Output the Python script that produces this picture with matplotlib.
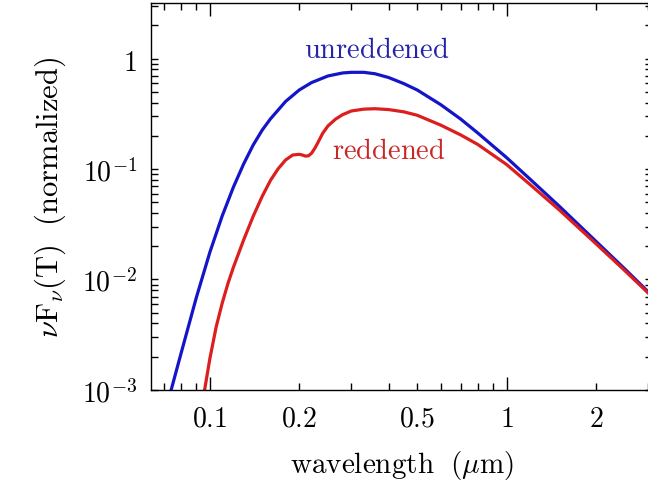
import matplotlib
matplotlib.use('Agg')
import matplotlib.pyplot as plt
from matplotlib.ticker import FixedLocator, FixedFormatter, NullFormatter

plt.rcParams['mathtext.fontset'] = 'cm'

# values (wavelength in micron, nu F_nu normalized)
wl_blue = [0.073, 0.08, 0.09, 0.10, 0.11, 0.12, 0.13, 0.14, 0.15, 0.16, 0.18,
           0.20, 0.22, 0.25, 0.28, 0.30, 0.33, 0.36, 0.40, 0.45, 0.50, 0.60,
           0.70, 0.80, 1.0, 1.2, 1.5, 2.0, 2.5, 3.0]
flux_blue = [0.00087, 0.00216, 0.00686, 0.0177, 0.0376, 0.0686, 0.1117, 0.1656,
             0.225, 0.285, 0.410, 0.520, 0.607, 0.697, 0.742, 0.752, 0.752,
             0.730, 0.675, 0.595, 0.520, 0.383, 0.284, 0.212, 0.127, 0.081,
             0.0465, 0.0222, 0.0125, 0.00774]

wl_red = [0.095, 0.10, 0.105, 0.11, 0.115, 0.12, 0.13, 0.14, 0.15, 0.16, 0.17,
          0.18, 0.19, 0.20, 0.205, 0.21, 0.215, 0.22, 0.225, 0.23, 0.24, 0.25,
          0.265, 0.28, 0.30, 0.33, 0.36, 0.40, 0.45, 0.50, 0.60, 0.70, 0.80,
          1.0, 1.2, 1.5, 2.0, 2.5, 3.0]
flux_red = [0.00085, 0.00193, 0.00373, 0.0061, 0.00918, 0.0129, 0.0229,
            0.0375, 0.0565, 0.079, 0.101, 0.121, 0.134, 0.136, 0.134, 0.131,
            0.132, 0.139, 0.152, 0.169, 0.211, 0.246, 0.283, 0.311, 0.336,
            0.349, 0.352, 0.346, 0.330, 0.307, 0.250, 0.204, 0.167, 0.110,
            0.0724, 0.043, 0.0211, 0.01206, 0.00755]

x_major = [0.1, 1.0]
x_major_labels = ['$0.1$', '$1$']
x_minor = [0.07, 0.08, 0.09, 0.2, 0.3, 0.4, 0.5, 0.6, 0.7, 0.8, 0.9, 2.0, 3.0]
x_minor_labels = ['', '', '', '$0.2$', '', '', '$0.5$', '', '', '', '', '$2$', '']
y_major = [1e-3, 1e-2, 1e-1, 1.0]
y_major_labels = ['$10^{-3}$', '$10^{-2}$', '$10^{-1}$', '$1$']

blue = '#1414c8'
red = '#dc1e1e'

fig = plt.figure(figsize=(6.48, 4.85), dpi=100)
ax = fig.add_axes([0.233, 0.194, 0.7731, 0.798])

ax.plot(wl_blue, flux_blue, color=blue, lw=2.3)
ax.plot(wl_red, flux_red, color=red, lw=2.3)

ax.set_xscale('log')
ax.set_yscale('log')
ax.set_xlim(0.0633, 3.09)
ax.set_ylim(1e-3, 3.2)

ax.xaxis.set_major_locator(FixedLocator(x_major))
ax.xaxis.set_major_formatter(FixedFormatter(x_major_labels))
ax.xaxis.set_minor_locator(FixedLocator(x_minor))
ax.xaxis.set_minor_formatter(FixedFormatter(x_minor_labels))

ax.yaxis.set_major_locator(FixedLocator(y_major))
ax.yaxis.set_major_formatter(FixedFormatter(y_major_labels))
ymin = [m * d for d in [1e-3, 1e-2, 1e-1, 1.0] for m in range(2, 10)]
ax.yaxis.set_minor_locator(FixedLocator(ymin))
ax.yaxis.set_minor_formatter(NullFormatter())

ax.tick_params(axis='x', which='major', direction='in', length=9.5, width=1.0,
               top=True, labelsize=20, pad=10)
ax.tick_params(axis='x', which='minor', direction='in', length=5, width=1.0,
               top=True, labelsize=20, pad=10)
ax.tick_params(axis='y', which='both', direction='in', length=5, width=1.0,
               right=True, labelsize=20, pad=10)
ax.spines['right'].set_visible(False)
for s in ['left', 'bottom', 'top']:
    ax.spines[s].set_linewidth(1.0)

ax.text(0.364, 1.04, r'$\mathrm{unreddened}$', color='#2323ac', fontsize=20.5,
        ha='center', va='baseline')
ax.text(0.40, 0.127, r'$\mathrm{reddened}$', color='#c82828', fontsize=20.5,
        ha='center', va='baseline')

ax.set_xlabel(r'$\mathrm{wavelength}\ \ (\mu\mathrm{m})$', fontsize=21, labelpad=12)
ax.set_ylabel(r'$\nu\mathrm{F}_\nu(\mathrm{T})\ \ (\mathrm{normalized})$', fontsize=22,
              labelpad=10)

fig.savefig('out.png', dpi=100)
